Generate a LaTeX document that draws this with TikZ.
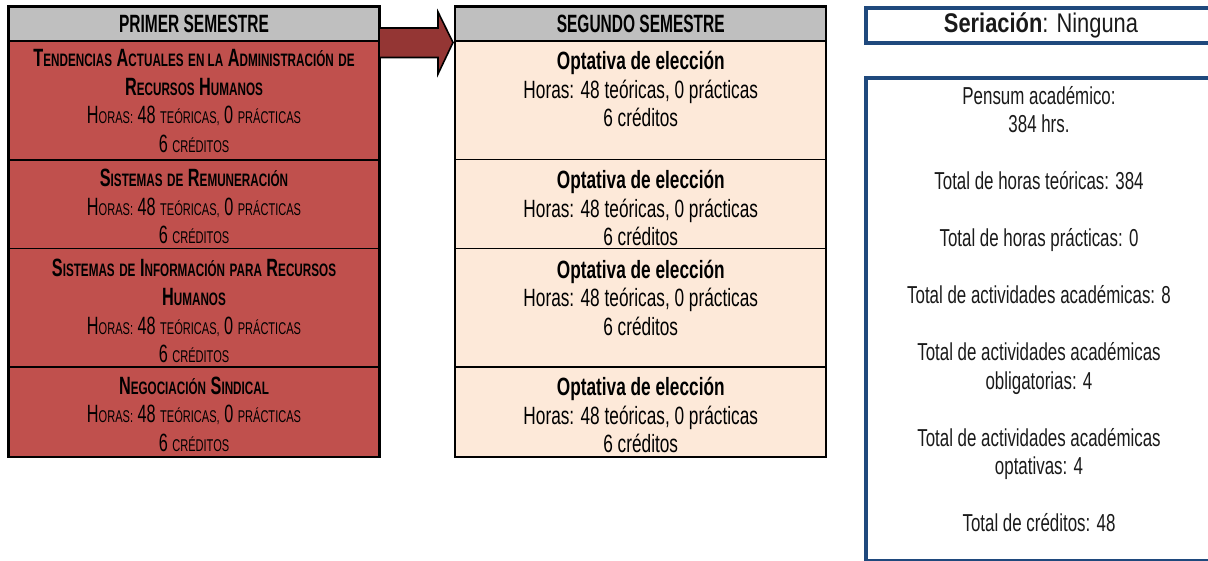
\documentclass[tikz,border=0pt]{standalone}
\usepackage{fontspec}
\setmainfont{Liberation Sans}
\newfontfamily\agency{Liberation Sans}[FakeStretch=0.69]
\newfontfamily\agencyleft{Liberation Sans}[FakeStretch=0.65]
\newfontfamily\agencyhdr{Liberation Sans}[FakeStretch=0.62]
\newfontfamily\narrowfont{Liberation Sans}[FakeStretch=0.81]
\definecolor{redcell}{HTML}{C0504D}
\definecolor{peach}{HTML}{FDE9D9}
\definecolor{hdrgray}{HTML}{BFBFBF}
\definecolor{arrowred}{HTML}{943634}
\definecolor{navy}{HTML}{1F497D}
\definecolor{txtgray}{HTML}{1A1A1A}
\newcommand\sm[1]{{\fontsize{17}{17}\selectfont #1}}
\newcommand\smb[1]{{\fontsize{18}{18}\selectfont #1}}
\newcommand\SC[2]{#1\sm{#2}}
\newcommand\SB[2]{#1\smb{#2}}
\tikzset{
  cellbox/.style={draw=black, line width=1.2pt, inner sep=0pt, minimum width=370pt},
  leftcell/.style={cellbox, fill=redcell},
  midcell/.style={cellbox, fill=peach},
  hdrcell/.style={cellbox, fill=hdrgray, minimum height=34pt},
  celltext/.style={inner sep=0pt, align=center, font=\agency\fontsize{25}{28.5}\selectfont},
  lefttext/.style={inner sep=0pt, align=center, font=\agencyleft\fontsize{25}{28.8}\selectfont},
  hdrtext/.style={inner sep=0pt, font=\agencyhdr\bfseries\fontsize{25}{28.5}\selectfont},
  bluebox/.style={draw=navy, line width=4pt, inner sep=0pt, minimum width=364pt},
  blockarrow/.style={fill=arrowred, draw=black, line width=1.6pt, line join=miter},
}
\begin{document}
\begin{tikzpicture}[x=1pt,y=-1pt]
\useasboundingbox (0,0) rectangle (1208,561);
\clip (0,0) rectangle (1208,561);
% ---------- left column ----------
\node[hdrcell] (hL) at (194,24) {};
\node[leftcell, minimum height=119pt] (L1) at (194,100.5) {};
\node[leftcell, minimum height=88.5pt] (L2) at (194,204.25) {};
\node[leftcell, minimum height=118.5pt] (L3) at (194,307.75) {};
\node[leftcell, minimum height=89.5pt] (L4) at (194,411.75) {};
\draw[line width=2.2pt] (hL.north west) rectangle (L4.south east);
\node[hdrtext] (thL) at (194,24) {PRIMER SEMESTRE};
\node[lefttext] (tL1) at (194,101) {\textbf{\SB{T}{ENDENCIAS} \SB{A}{CTUALES} \smb{EN LA} \SB{A}{DMINISTRACIÓN} \smb{DE}}\\
\textbf{\SB{R}{ECURSOS} \SB{H}{UMANOS}}\\
\SC{H}{ORAS:} 48 \sm{TEÓRICAS,} 0 \sm{PRÁCTICAS}\\
6 \sm{CRÉDITOS}};
\node[lefttext] (tL2) at (194,206.5) {\textbf{\SB{S}{ISTEMAS} \smb{DE} \SB{R}{EMUNERACIÓN}}\\
\SC{H}{ORAS:} 48 \sm{TEÓRICAS,} 0 \sm{PRÁCTICAS}\\
6 \sm{CRÉDITOS}};
\node[lefttext] (tL3) at (194,311) {\textbf{\SB{S}{ISTEMAS} \smb{DE} \SB{I}{NFORMACIÓN} \smb{PARA} \SB{R}{ECURSOS}}\\
\textbf{\SB{H}{UMANOS}}\\
\SC{H}{ORAS:} 48 \sm{TEÓRICAS,} 0 \sm{PRÁCTICAS}\\
6 \sm{CRÉDITOS}};
\node[lefttext] (tL4) at (194,414.3) {\textbf{\SB{N}{EGOCIACIÓN} \SB{S}{INDICAL}}\\
\SC{H}{ORAS:} 48 \sm{TEÓRICAS,} 0 \sm{PRÁCTICAS}\\
6 \sm{CRÉDITOS}};
% ---------- middle column ----------
\node[hdrcell] (hM) at (640.75,24) {};
\node[midcell, minimum height=118.5pt] (M1) at (640.75,100.25) {};
\node[midcell, minimum height=89pt] (M2) at (640.75,204) {};
\node[midcell, minimum height=118.5pt] (M3) at (640.75,307.75) {};
\node[midcell, minimum height=89.5pt] (M4) at (640.75,411.75) {};
\draw[line width=2.2pt] (hM.north west) rectangle (M4.south east);
\node[hdrtext] (thM) at (640.75,24) {SEGUNDO SEMESTRE};
\node[celltext] (tM1) at (640.75,89.3) {\textbf{Optativa de elección}\\Horas: 48 teóricas, 0 prácticas\\6 créditos};
\node[celltext] (tM2) at (640.75,208.2) {\textbf{Optativa de elección}\\Horas: 48 teóricas, 0 prácticas\\6 créditos};
\node[celltext] (tM3) at (640.75,297.7) {\textbf{Optativa de elección}\\Horas: 48 teóricas, 0 prácticas\\6 créditos};
\node[celltext] (tM4) at (640.75,415.3) {\textbf{Optativa de elección}\\Horas: 48 teóricas, 0 prácticas\\6 créditos};
% ---------- block arrow from first to second semester ----------
\coordinate (arrtail) at (379,42.5);
\draw[blockarrow] (arrtail) ++(0,-14.5) -- ++(59,0) -- ++(0,-16) -- (453,42.5)
  -- (438,74) -- ++(0,-16.5) -- ++(-59,0) -- cycle;
% ---------- right boxes ----------
\node[bluebox, minimum height=35pt] (ser) at (1048,25.5) {};
\node[inner sep=0pt, text=txtgray, font=\narrowfont\fontsize{27}{30}\selectfont] (tser) at (1041,25) {\textbf{Seriación}: Ninguna};
\node[bluebox, minimum height=482.5pt] (pen) at (1048,319.25) {};
\node[celltext, text=txtgray, font=\agency\fontsize{24.5}{28.5}\selectfont] (tpen) at (1039,309) {Pensum académico:\\384 hrs.\\[28.5pt]
Total de horas teóricas: 384\\[28.5pt]
Total de horas prácticas: 0\\[28.5pt]
Total de actividades académicas: 8\\[28.5pt]
Total de actividades académicas\\obligatorias: 4\\[28.5pt]
Total de actividades académicas\\optativas: 4\\[28.5pt]
Total de créditos: 48};
\end{tikzpicture}
\end{document}
